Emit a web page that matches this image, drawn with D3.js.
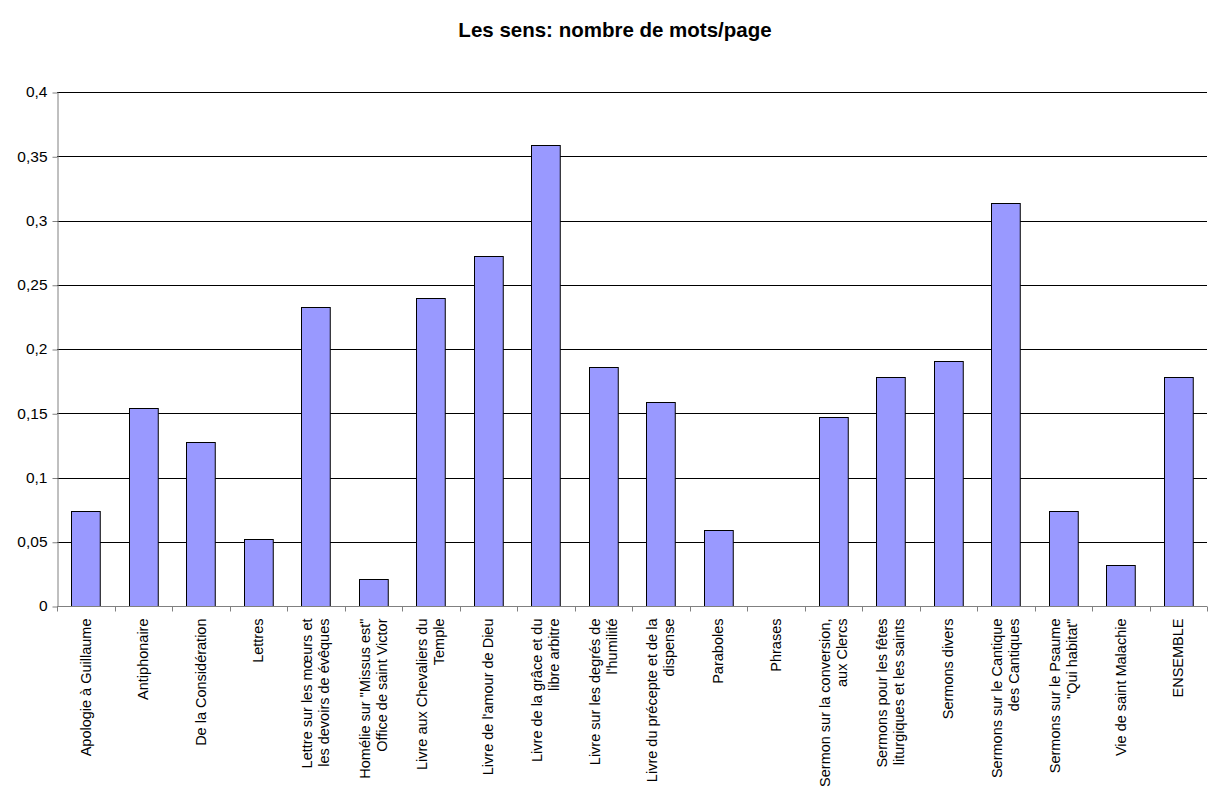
<!DOCTYPE html>
<html>
<head>
<meta charset="utf-8">
<script src="https://cdn.jsdelivr.net/npm/d3@7"></script>
<style>
  body { margin: 0; background: #fff; }
  text { font-family: "Liberation Sans", Arial, sans-serif; }
</style>
</head>
<body>
<div id="chart"></div>
<script>
// categories (line breaks as in the original)
var categories = [
  "Apologie à Guillaume",
  "Antiphonaire",
  "De la Considération",
  "Lettres",
  "Lettre sur les mœurs et\nles devoirs de évêques",
  "Homélie sur \"Missus est\"\nOffice de saint Victor",
  "Livre aux Chevaliers du\nTemple",
  "Livre de l'amour de Dieu",
  "Livre de la grâce et du\nlibre arbitre",
  "Livre sur les degrés de\nl'humilité",
  "Livre du précepte et de la\ndispense",
  "Paraboles",
  "Phrases",
  "Sermon sur la conversion,\naux Clercs",
  "Sermons pour les fêtes\nliturgiques et les saints",
  "Sermons divers",
  "Sermons sur le Cantique\ndes Cantiques",
  "Sermons sur le Psaume\n\"Qui habitat\"",
  "Vie de saint Malachie",
  "ENSEMBLE"
];
var values = [0.074, 0.154, 0.128, 0.052, 0.233, 0.021, 0.240, 0.272, 0.359, 0.186,
              0.159, 0.059, 0, 0.147, 0.178, 0.191, 0.314, 0.074, 0.032, 0.178];
var yTicks = [0, 0.05, 0.1, 0.15, 0.2, 0.25, 0.3, 0.35, 0.4];
var title = "Les sens: nombre de mots/page";

var W = 1211, H = 787;
var margin = {top: 92, right: 4, bottom: 181, left: 57},
    width = W - margin.left - margin.right,
    height = H - margin.top - margin.bottom;

var svg = d3.select("#chart")
  .append("svg")
    .attr("width", W)
    .attr("height", H)
  .append("g")
    .attr("transform", "translate(" + margin.left + "," + margin.top + ")");

// title
svg.append("text")
  .attr("x", 615 - margin.left)
  .attr("y", -55)
  .attr("text-anchor", "middle")
  .style("font-size", "20.5px")
  .style("font-weight", "bold")
  .text(title);

// scales
var x = d3.scaleBand()
  .domain(d3.range(categories.length))
  .range([0, width])
  .paddingInner(0.5)
  .paddingOuter(0.25);

var y = d3.scaleLinear()
  .domain([0, 0.4])
  .range([height, 0]);

// gridlines
svg.append("g")
  .selectAll("line")
  .data(yTicks.slice(1))
  .enter()
  .append("line")
    .attr("x1", 0)
    .attr("x2", width)
    .attr("y1", function(d) { return Math.round(y(d)) + 0.5; })
    .attr("y2", function(d) { return Math.round(y(d)) + 0.5; })
    .attr("stroke", "#000")
    .attr("stroke-width", 1);

// bars (zero value -> no bar)
svg.append("g")
  .selectAll("rect")
  .data(values)
  .enter()
  .append("rect")
    .attr("x", function(d, i) { return Math.round(x(i)) + 0.5; })
    .attr("y", function(d) { return Math.round(y(d)) + 0.5; })
    .attr("width", x.bandwidth())
    .attr("height", function(d) { return Math.round(height - y(d)); })
    .attr("display", function(d) { return d > 0 ? null : "none"; })
    .attr("fill", "#9999ff")
    .attr("stroke", "#000")
    .attr("stroke-width", 1);

// y axis
var yAxis = svg.append("g")
  .attr("transform", "translate(0.5,0)")
  .call(d3.axisLeft(y).tickValues(yTicks).tickSize(5).tickSizeOuter(0)
    .tickFormat(function(d) { return d3.format("~g")(d).replace(".", ","); }));
yAxis.select(".domain").attr("stroke", "#808080");
yAxis.selectAll(".tick line").attr("stroke", "#808080").attr("transform", "translate(0,0.5)");
yAxis.selectAll(".tick text")
  .style("font-size", "15.5px")
  .style("font-family", "'Liberation Sans', Arial, sans-serif")
  .attr("fill", "#000")
  .attr("x", -10);

// x axis line + ticks between categories
var xg = svg.append("g").attr("transform", "translate(0," + (Math.round(height) + 0.5) + ")");
xg.append("line")
  .attr("x1", 0).attr("x2", width)
  .attr("stroke", "#808080");
xg.selectAll("line.tk")
  .data(d3.range(categories.length + 1))
  .enter()
  .append("line")
    .attr("class", "tk")
    .attr("x1", function(d) { return Math.round(d * width / categories.length) + 0.5; })
    .attr("x2", function(d) { return Math.round(d * width / categories.length) + 0.5; })
    .attr("y1", 0).attr("y2", 5)
    .attr("stroke", "#808080");

// x labels, rotated
var lab = xg.selectAll("g.lab")
  .data(categories)
  .enter()
  .append("g")
    .attr("class", "lab")
    .attr("transform", function(d, i) {
      return "translate(" + (x(i) + x.bandwidth() / 2) + ",12) rotate(-90)";
    });
lab.each(function(d) {
  var lines = d.split("\n");
  var lh = 17;
  var t = d3.select(this).append("text")
    .attr("text-anchor", "end")
    .style("font-size", "14.5px");
  lines.forEach(function(l, k) {
    t.append("tspan")
      .attr("x", 0)
      .attr("y", (k - (lines.length - 1) / 2) * lh + 5)
      .text(l);
  });
});
</script>
</body>
</html>
